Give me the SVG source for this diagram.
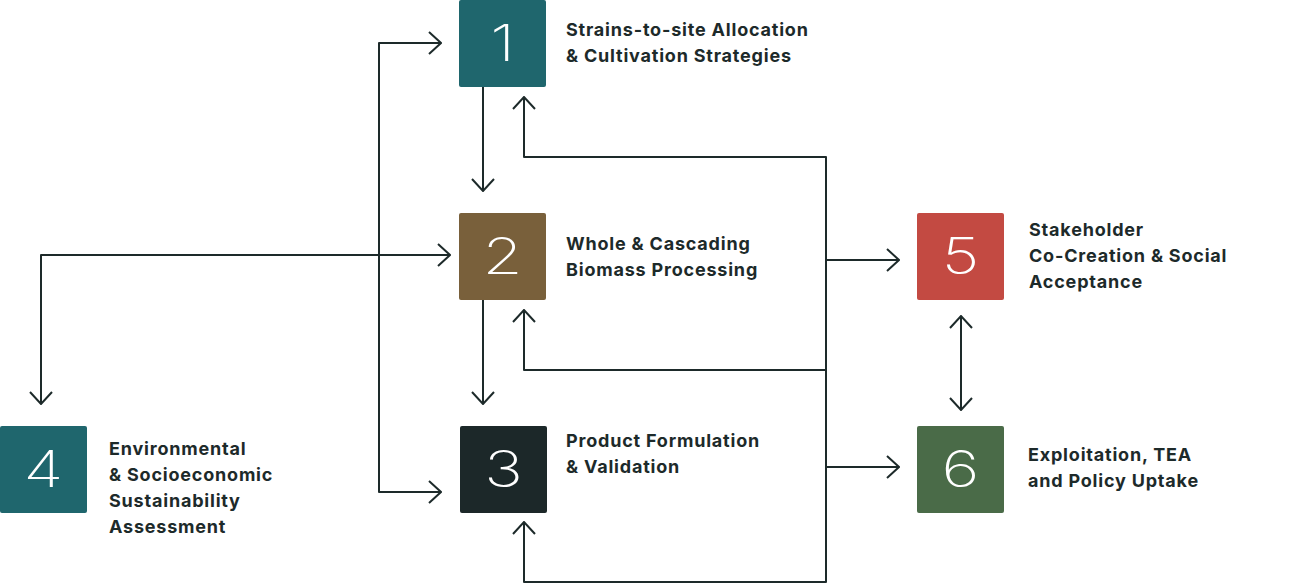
<svg xmlns="http://www.w3.org/2000/svg" width="1300" height="584" viewBox="0 0 1300 584">
<style>
.box{stroke:none}
.num{font-family:Inter,"Liberation Sans",sans-serif;font-weight:250;font-size:50px;fill:#ffffff;text-anchor:middle}
.lbl{font-family:Inter,"Liberation Sans",sans-serif;font-weight:700;font-size:18px;letter-spacing:0.8px;fill:#1d2a2a}
.con{fill:none;stroke:#1d2a2a;stroke-width:2;stroke-linejoin:round}
</style>
<defs>
<marker id="arr" viewBox="-1 -1 14 24" refX="12" refY="11" markerWidth="14" markerHeight="24" markerUnits="userSpaceOnUse" orient="auto-start-reverse">
<path d="M0,0 L12,11 L0,22" fill="none" stroke="#1d2a2a" stroke-width="2"/>
</marker>
</defs>
<rect width="1300" height="584" fill="#ffffff"/>
<g id="connectors">
<path class="con" d="M441,43 H379 V492 H441" marker-start="url(#arr)" marker-end="url(#arr)"/>
<path class="con" d="M483,87 V191" marker-end="url(#arr)"/>
<path class="con" d="M483,300 V404" marker-end="url(#arr)"/>
<path class="con" d="M524,97 V157 H826 V582 H524 V522" marker-start="url(#arr)" marker-end="url(#arr)"/>
<path class="con" d="M826,370 H524 V310" marker-end="url(#arr)"/>
<path class="con" d="M826,260 H899" marker-end="url(#arr)"/>
<path class="con" d="M826,467 H899" marker-end="url(#arr)"/>
<path class="con" d="M41,404 V255 H450" marker-start="url(#arr)" marker-end="url(#arr)"/>
<path class="con" d="M961,316 V410" marker-start="url(#arr)" marker-end="url(#arr)"/>
</g>
<g id="node1">
<rect class="box" x="459" y="0" width="87" height="87" rx="2" fill="#1f666d"/>
<text class="num" transform="translate(502.5,61) scale(1.3,1)">1</text>
<text class="lbl" x="566" y="36">Strains-to-site Allocation</text>
<text class="lbl" x="566" y="62">&amp; Cultivation Strategies</text>
</g>
<g id="node2">
<rect class="box" x="459" y="213" width="87" height="87" rx="2" fill="#79603b"/>
<text class="num" transform="translate(502.5,274) scale(1.3,1)">2</text>
<text class="lbl" x="566" y="250">Whole &amp; Cascading</text>
<text class="lbl" x="566" y="276">Biomass Processing</text>
</g>
<g id="node3">
<rect class="box" x="460" y="426" width="87" height="87" rx="2" fill="#1c2829"/>
<text class="num" transform="translate(503.5,487) scale(1.3,1)">3</text>
<text class="lbl" x="566" y="447">Product Formulation</text>
<text class="lbl" x="566" y="473">&amp; Validation</text>
</g>
<g id="node4">
<rect class="box" x="0" y="426" width="87" height="87" rx="2" fill="#1f666d"/>
<text class="num" transform="translate(43.5,487) scale(1.3,1)">4</text>
<text class="lbl" x="109" y="455">Environmental</text>
<text class="lbl" x="109" y="481">&amp; Socioeconomic</text>
<text class="lbl" x="109" y="507">Sustainability</text>
<text class="lbl" x="109" y="533">Assessment</text>
</g>
<g id="node5">
<rect class="box" x="917" y="213" width="87" height="87" rx="2" fill="#c34a42"/>
<text class="num" transform="translate(960.5,274) scale(1.3,1)">5</text>
<text class="lbl" x="1029" y="236">Stakeholder</text>
<text class="lbl" x="1029" y="262">Co-Creation &amp; Social</text>
<text class="lbl" x="1029" y="288">Acceptance</text>
</g>
<g id="node6">
<rect class="box" x="917" y="426" width="87" height="87" rx="2" fill="#4a6b48"/>
<text class="num" transform="translate(960.5,487) scale(1.3,1)">6</text>
<text class="lbl" x="1028" y="461">Exploitation, TEA</text>
<text class="lbl" x="1028" y="487">and Policy Uptake</text>
</g>
</svg>
